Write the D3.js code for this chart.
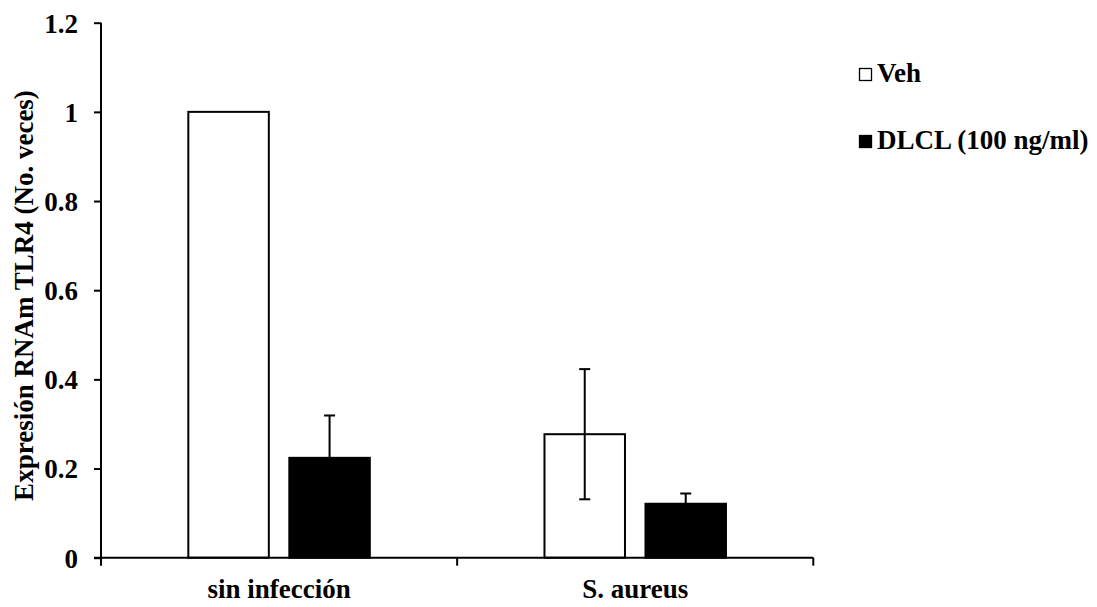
<!DOCTYPE html>
<html>
<head>
<meta charset="utf-8">
<script src="https://cdn.jsdelivr.net/npm/d3@7"></script>
<style>
  html, body { margin: 0; padding: 0; background: #fff; }
  svg { display: block; }
  text { font-family: "Times New Roman", "Liberation Serif", serif; font-weight: bold; fill: #000; }
</style>
</head>
<body>
<svg id="chart" width="1097" height="607"></svg>
<script>
const categories = ["sin infección", "S. aureus"];
const seriesNames = ["Veh", "DLCL (100 ng/ml)"];
const vehValues = [1.0, 0.277];
const vehErrors = [0, 0.146];
const dlclValues = [0.224, 0.121];
const dlclErrors = [0.095, 0.023];
const yTicks = [0, 0.2, 0.4, 0.6, 0.8, 1, 1.2];
const yLabel = "Expresión RNAm TLR4 (No. veces)";
const seriesFill = ["#ffffff", "#000000"];

const svg = d3.select("#chart");
const pLeft = 101, pRight = 813.3, pTop = 22.7, pBottom = 557.7;
const fs = 27;

const y = d3.scaleLinear().domain([0, 1.2]).range([pBottom, pTop]);
const x0 = d3.scaleBand().domain(categories).range([pLeft, pRight]).paddingInner(0).paddingOuter(0);
const x1 = d3.scaleBand().domain(seriesNames).range([0, x0.bandwidth()])
  .paddingInner(0.203).paddingOuter(0.8646);

const rows = [];
categories.forEach((c, i) => {
  rows.push({cat: c, s: seriesNames[0], v: vehValues[i], e: vehErrors[i], fill: seriesFill[0]});
  rows.push({cat: c, s: seriesNames[1], v: dlclValues[i], e: dlclErrors[i], fill: seriesFill[1]});
});

// bars
svg.append("g").selectAll("rect").data(rows).join("rect")
  .attr("x", d => x0(d.cat) + x1(d.s))
  .attr("y", d => y(d.v))
  .attr("width", x1.bandwidth())
  .attr("height", d => y(0) - y(d.v))
  .attr("fill", d => d.fill)
  .attr("stroke", "#000")
  .attr("stroke-width", 2);

// error bars
const eg = svg.append("g").attr("stroke", "#000").attr("stroke-width", 2);
rows.filter(d => d.e > 0).forEach(d => {
  const cx = x0(d.cat) + x1(d.s) + x1.bandwidth() / 2;
  eg.append("line").attr("x1", cx).attr("x2", cx).attr("y1", y(d.v + d.e)).attr("y2", y(d.v - d.e));
  eg.append("line").attr("x1", cx - 5.5).attr("x2", cx + 5.5).attr("y1", y(d.v + d.e)).attr("y2", y(d.v + d.e));
  eg.append("line").attr("x1", cx - 5.5).attr("x2", cx + 5.5).attr("y1", y(d.v - d.e)).attr("y2", y(d.v - d.e));
});

// y axis
const yAxis = d3.axisLeft(y).tickValues(yTicks).tickSize(7).tickPadding(16)
  .tickFormat(d => d3.format("~g")(d));
const yg = svg.append("g").attr("transform", `translate(${pLeft},0)`).call(yAxis);
yg.select(".domain").remove();
yg.append("line").attr("x1", 0).attr("x2", 0).attr("y1", pTop).attr("y2", pBottom)
  .attr("stroke", "#000").attr("stroke-width", 2);
yg.selectAll(".tick line").attr("stroke", "#000").attr("stroke-width", 2);
yg.selectAll(".tick text").attr("font-size", fs).attr("font-family", null).attr("dy", "0.35em");

// x axis
svg.append("line").attr("x1", pLeft - 7).attr("x2", pRight).attr("y1", pBottom).attr("y2", pBottom)
  .attr("stroke", "#000").attr("stroke-width", 2);
const bounds = [pLeft, ...categories.map(c => x0(c) + x0.bandwidth())];
svg.append("g").selectAll("line").data(bounds).join("line")
  .attr("x1", d => d).attr("x2", d => d).attr("y1", pBottom).attr("y2", pBottom + 8)
  .attr("stroke", "#000").attr("stroke-width", 2);
svg.append("g").selectAll("text").data(categories).join("text")
  .attr("x", d => x0(d) + x0.bandwidth() / 2)
  .attr("y", 597.5)
  .attr("text-anchor", "middle")
  .attr("font-size", fs)
  .text(d => d);

// y label
svg.append("text")
  .attr("transform", `translate(33,295.5) rotate(-90)`)
  .attr("text-anchor", "middle")
  .attr("font-size", fs)
  .text(yLabel);

// legend
const legY = [68, 135];
const lg = svg.append("g");
seriesNames.forEach((s, i) => {
  lg.append("rect").attr("x", 859.5).attr("y", legY[i] + 0.5).attr("width", 12).attr("height", 12)
    .attr("fill", seriesFill[i]).attr("stroke", "#000").attr("stroke-width", 1.3);
  lg.append("text").attr("x", 877).attr("y", legY[i] + 14).attr("font-size", fs).text(s);
});
</script>
</body>
</html>
